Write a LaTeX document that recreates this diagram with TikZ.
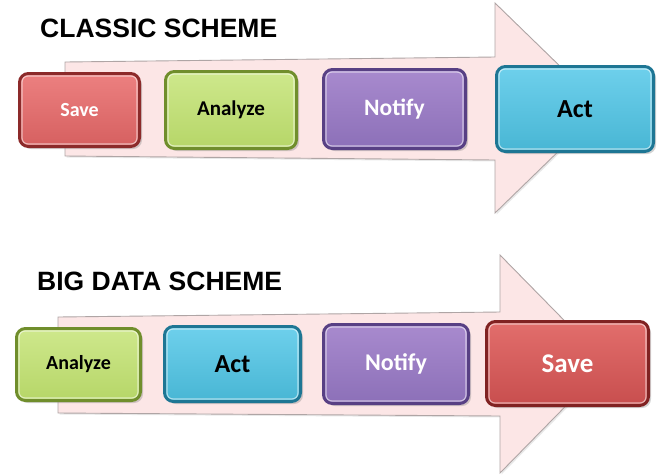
\documentclass[tikz,border=0pt]{standalone}
\usepackage{fontspec}
\setmainfont{Liberation Sans}
\newfontfamily\labfont{Carlito}
\usetikzlibrary{shadows}
\definecolor{arrowfill}{RGB}{252,230,230}
\definecolor{arrowline}{RGB}{175,165,165}
\definecolor{redA}{RGB}{236,128,128}\definecolor{redB}{RGB}{214,96,96}\definecolor{redD}{RGB}{140,42,42}
\definecolor{redC}{RGB}{226,110,108}\definecolor{redE}{RGB}{200,78,78}\definecolor{redF}{RGB}{128,34,34}
\definecolor{grnA}{RGB}{206,232,140}\definecolor{grnB}{RGB}{182,214,104}\definecolor{grnD}{RGB}{112,142,44}
\definecolor{purA}{RGB}{168,138,206}\definecolor{purB}{RGB}{140,112,184}\definecolor{purD}{RGB}{88,64,132}
\definecolor{cyaA}{RGB}{110,208,236}\definecolor{cyaB}{RGB}{72,182,212}\definecolor{cyaD}{RGB}{30,118,148}
\tikzset{
  bigarrow/.style={fill=arrowfill, draw=arrowline, line width=0.9pt, line join=miter,
    drop shadow={opacity=0.18, shadow xshift=1.5pt, shadow yshift=-1.5pt}},
  title/.style={font=\bfseries\fontsize{26.5}{30}\selectfont, anchor=base west, inner sep=0pt},
  stepbox/.style={rounded corners=9pt, line width=3pt, inner sep=0pt,
    drop shadow={opacity=0.35, shadow xshift=2.5pt, shadow yshift=-2.5pt}},
  redbox/.style={stepbox, draw=redD, top color=redA, bottom color=redB, text=white},
  redbox2/.style={stepbox, draw=redF, top color=redC, bottom color=redE, text=white},
  grnbox/.style={stepbox, draw=grnD, top color=grnA, bottom color=grnB, text=black},
  purbox/.style={stepbox, draw=purD, top color=purA, bottom color=purB, text=white},
  cyabox/.style={stepbox, draw=cyaD, top color=cyaA, bottom color=cyaB, text=black},
  hl/.style={draw=white, draw opacity=0.55, line width=1.2pt, rounded corners=6pt},
}
\newcommand{\lbl}[2]{{\labfont\bfseries\fontsize{#1}{#1}\selectfont #2}}
\newcommand{\bevel}[1]{\draw[hl] ([shift={(4,4)}]#1.north west) rectangle ([shift={(-4,-4)}]#1.south east);}
\begin{document}
\begin{tikzpicture}[x=1pt,y=-1pt]
\useasboundingbox (0,0) rectangle (661,475);
% titles
\node[title] (t1) at (40,37) {CLASSIC SCHEME};
\node[title] (t2) at (37,290) {BIG DATA SCHEME};
% arrows
\draw[bigarrow] (65,62) -- (495,57) -- (495,3) -- (603,108) -- (495,213) -- (495,160) -- (65,156) -- cycle;
\draw[bigarrow] (58,317) -- (500,312) -- (500,255) -- (607,364) -- (500,473) -- (500,416) -- (58,413) -- cycle;
% classic row
\node[redbox, minimum width=120, minimum height=73] (s1) at (79.5,110) {\lbl{20}{Save}};
\node[grnbox, minimum width=131, minimum height=77] (a1) at (231,110) {\lbl{21}{Analyze}};
\node[purbox, minimum width=142, minimum height=79] (n1) at (394.5,109) {\lbl{23.5}{Notify}};
\node[cyabox, minimum width=157, minimum height=85] (c1) at (575,109) {\lbl{26}{Act}};
\bevel{s1}\bevel{a1}\bevel{n1}\bevel{c1}
% big data row
\node[grnbox, minimum width=124, minimum height=72] (a2) at (78.5,364.5) {\lbl{20}{Analyze}};
\node[cyabox, minimum width=136, minimum height=75] (c2) at (232.5,364) {\lbl{26}{Act}};
\node[purbox, minimum width=145, minimum height=79] (n2) at (396,364) {\lbl{24}{Notify}};
\node[redbox2, minimum width=162, minimum height=84] (s2) at (567.5,363.5) {\lbl{27}{Save}};
\bevel{a2}\bevel{c2}\bevel{n2}\bevel{s2}
\end{tikzpicture}
\end{document}
